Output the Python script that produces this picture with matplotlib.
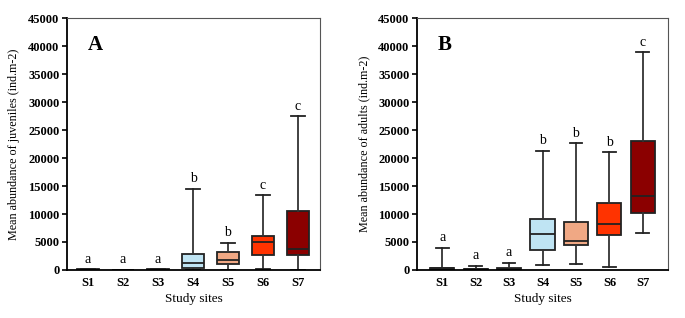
import matplotlib
matplotlib.use('Agg')
import matplotlib.pyplot as plt

plt.rcParams['font.family'] = ['Liberation Serif', 'DejaVu Serif']

sites = ['S1', 'S2', 'S3', 'S4', 'S5', 'S6', 'S7']
colors = ['#111111', '#111111', '#111111', '#bfe4f3', '#f0a884', '#ff3300', '#8b0000']

# juveniles: whisker low, Q1, median, Q3, whisker high
juv_low = [0, 0, 0, 0, 0, 200, 0]
juv_q1 = [0, 0, 0, 400, 1100, 2600, 2700]
juv_med = [50, 20, 50, 1200, 1700, 5000, 3700]
juv_q3 = [100, 50, 100, 2900, 3300, 6000, 10500]
juv_high = [200, 80, 200, 14500, 4900, 13400, 27500]
juv_letters = ['a', 'a', 'a', 'b', 'b', 'c', 'c']

# adults
ad_low = [0, 0, 0, 900, 1100, 600, 6600]
ad_q1 = [0, 0, 0, 3500, 4400, 6300, 10100]
ad_med = [300, 100, 150, 6500, 5200, 8300, 13200]
ad_q3 = [400, 200, 300, 9100, 8500, 11900, 23100]
ad_high = [4000, 800, 1300, 21300, 22700, 21000, 38900]
ad_letters = ['a', 'a', 'a', 'b', 'b', 'b', 'c']


def panel(ax, low, q1, med, q3, high, letters, ylabel, tag, xlim, width):
    stats = []
    for i in range(len(sites)):
        stats.append(dict(whislo=low[i], q1=q1[i], med=med[i], q3=q3[i],
                          whishi=high[i], fliers=[]))
    bp = ax.bxp(stats, positions=range(1, 8), widths=width, patch_artist=True,
                showfliers=False,
                boxprops=dict(linewidth=1.3, edgecolor='#222222'),
                medianprops=dict(color='#222222', linewidth=1.3),
                whiskerprops=dict(color='#333333', linewidth=1.3),
                capprops=dict(color='#222222', linewidth=1.3),
                capwidths=0.38)
    for patch, c in zip(bp['boxes'], colors):
        patch.set_facecolor(c)
    for i, t in enumerate(letters):
        ax.text(i + 1, high[i] + 600, t, ha='center', va='bottom', fontsize=10)
    ax.set_ylim(0, 45000)
    ax.set_xlim(*xlim)
    ax.set_yticks(range(0, 45001, 5000))
    ax.set_xticks(range(1, 8))
    ax.set_xticklabels(sites)
    for lab in ax.get_xticklabels() + ax.get_yticklabels():
        lab.set_fontweight('bold')
        lab.set_fontsize(9)
    ax.set_ylabel(ylabel, fontsize=8.7, labelpad=6)
    ax.set_xlabel('Study sites', fontsize=9.5, labelpad=3)
    ax.text(0.08, 0.895, tag, transform=ax.transAxes, fontsize=15, fontweight='bold',
            ha='left', va='center')
    for s in ['left', 'bottom']:
        ax.spines[s].set_linewidth(1.3)
    for s in ['top', 'right']:
        ax.spines[s].set_linewidth(0.8)
        ax.spines[s].set_color('#555555')
    ax.tick_params(axis='both', width=1.2, length=3.5, pad=2)
    ax.tick_params(axis='x', length=0, pad=5)


fig = plt.figure(figsize=(6.85, 3.18), dpi=100)
ax1 = fig.add_axes([0.098, 0.151, 0.369, 0.792])
ax2 = fig.add_axes([0.609, 0.151, 0.366, 0.792])
panel(ax1, juv_low, juv_q1, juv_med, juv_q3, juv_high, juv_letters,
      'Mean abundance of juveniles (ind.m-2)', 'A', (0.4, 7.63), 0.64)
panel(ax2, ad_low, ad_q1, ad_med, ad_q3, ad_high, ad_letters,
      'Mean abundance of adults (ind.m-2)', 'B', (0.25, 7.75), 0.72)
fig.savefig('out.png', dpi=100)
